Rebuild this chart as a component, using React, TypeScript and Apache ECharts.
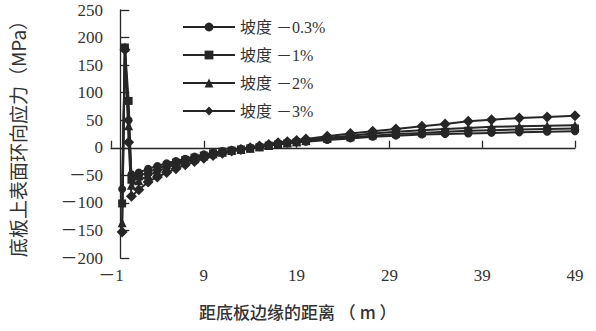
import React, { useEffect, useRef } from "react";
import * as echarts from "echarts";

const xs = [0.2, 0.5, 0.9, 1.2, 2, 3, 4, 5, 6, 7, 8, 9, 10, 11, 12, 13, 14, 15, 16, 17, 18, 19, 20, 22.3, 24.8, 27.2, 29.7, 32.5, 35, 37.5, 40, 43, 46, 49];
const slope03 = [-75, 180, 50, -48, -45, -38, -33, -28, -24, -20, -16, -12, -9, -6, -4, -2, 0, 2, 4, 6, 8, 10, 11, 14, 17, 20, 22, 24, 25, 26, 27, 28, 29, 30];
const slope1 = [-101, 182, 85, -58, -52, -44, -38, -32, -27, -22, -18, -14, -10, -7, -5, -3, -1, 1, 4, 6, 8, 10, 12, 16, 19, 22, 25, 27, 29, 31, 32, 33, 34, 35];
const slope2 = [-136, 183, 40, -68, -60, -50, -43, -36, -30, -25, -20, -15, -11, -8, -5, -3, -1, 2, 4, 7, 9, 11, 13, 18, 22, 26, 29, 32, 34, 36, 38, 39, 40, 41];
const slope3 = [-153, 178, 10, -88, -76, -62, -53, -45, -38, -31, -25, -19, -14, -10, -6, -3, 0, 3, 6, 9, 11, 13, 16, 21, 26, 30, 34, 39, 43, 48, 51, 54, 56, 58];

const seriesNames = ["坡度 －0.3%", "坡度 －1%", "坡度 －2%", "坡度 －3%"];
const seriesSymbols = ["circle", "rect", "triangle", "diamond"];
const seriesSizes = [8, 8, 9, 11];
const seriesValues = [slope03, slope1, slope2, slope3];

const FONT = "'Liberation Serif', 'Noto Sans CJK SC', serif";
const INK = "#262626";

export default function App() {
  const ref = useRef<HTMLDivElement>(null);
  useEffect(() => {
    if (!ref.current) return;
    const chart = echarts.init(ref.current, undefined, { renderer: "svg" });
    const fmt = (v: number) => (v < 0 ? "－" + Math.abs(v) : String(v));
    chart.setOption({
      animation: false,
      backgroundColor: "#ffffff",
      grid: { left: 108, right: 21, top: 10, bottom: 73 },
      legend: {
        orient: "vertical",
        left: 177,
        top: 13,
        itemWidth: 52,
        itemHeight: 11,
        itemGap: 10,
        data: seriesNames,
        textStyle: { fontFamily: FONT, fontSize: 16, color: "#333", lineHeight: 18 },
      },
      xAxis: {
        type: "value",
        min: -1,
        max: 49,
        interval: 10,
        axisLine: { lineStyle: { color: INK, width: 1.3 } },
        axisTick: { inside: true, length: 7, lineStyle: { color: INK, width: 1.3 } },
        axisLabel: { formatter: fmt, fontFamily: FONT, fontSize: 17, color: "#333", margin: 9 },
        splitLine: { show: false },
      },
      yAxis: {
        type: "value",
        min: -200,
        max: 250,
        interval: 50,
        name: "底板上表面环向应力（MPa）",
        nameLocation: "middle",
        nameRotate: 90,
        nameGap: 84,
        nameTextStyle: { fontFamily: "'Noto Sans CJK SC', sans-serif", fontSize: 19, color: "#333" },
        axisLine: { show: true, lineStyle: { color: INK, width: 1.3 } },
        axisTick: { show: true, inside: true, length: 9, lineStyle: { color: INK, width: 1.3 } },
        axisLabel: { formatter: fmt, fontFamily: FONT, fontSize: 17, color: "#333", margin: 8 },
        splitLine: { show: false },
      },
      graphic: [
        {
          type: "text",
          left: 199,
          top: 303,
          style: {
            text: "距底板边缘的距离 （ m ）",
            fontFamily: "'Noto Sans CJK SC', sans-serif",
            fontSize: 17,
            fontWeight: 500,
            fill: "#333",
          },
        },
      ],
      series: seriesNames.map((name, i) => ({
        name,
        type: "line",
        data: xs.map((x, j) => [x, seriesValues[i][j]]),
        symbol: seriesSymbols[i],
        symbolSize: seriesSizes[i],
        showAllSymbol: true,
        itemStyle: { color: INK },
        lineStyle: { color: INK, width: 2 },
      })),
    });
    return () => chart.dispose();
  }, []);
  return <div ref={ref} style={{ position: "fixed", left: 0, top: 0, width: 596, height: 331 }} />;
}
